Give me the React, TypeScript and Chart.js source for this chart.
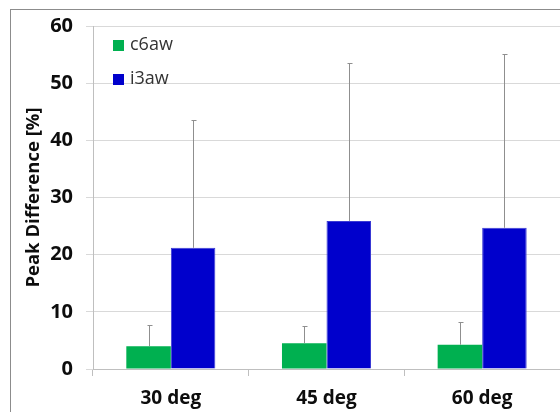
import React, { useEffect, useRef } from "react";
import { Chart, registerables } from "chart.js";

Chart.register(...registerables);

const categories = ["30 deg", "45 deg", "60 deg"];
const c6aw = [4.0, 4.5, 4.25];
const i3aw = [21.2, 25.9, 24.7];
// upper error extents above each bar
const c6awErr = [3.7, 3.0, 4.05];
const i3awErr = [22.3, 27.7, 30.4];
const yTicks = [0, 10, 20, 30, 40, 50, 60];

const GREEN = "#00b050";
const BLUE = "#0000cc";
const FONT = "'Open Sans', 'Liberation Sans', sans-serif";

const framePlugin = {
  id: "frame",
  beforeDraw(chart: any) {
    const ctx = chart.ctx;
    ctx.save();
    ctx.fillStyle = "#ffffff";
    ctx.fillRect(0, 0, chart.width, chart.height);
    ctx.strokeStyle = "#8c8c8c";
    ctx.lineWidth = 1;
    ctx.strokeRect(10.5, 9.5, 800, 800);
    ctx.restore();
  },
};

const errorBarPlugin = {
  id: "errorBars",
  afterDatasetsDraw(chart: any) {
    const ctx = chart.ctx;
    const y = chart.scales.y;
    const errs = [c6awErr, i3awErr];
    ctx.save();
    ctx.strokeStyle = "#8f8f8f";
    ctx.lineWidth = 1;
    chart.data.datasets.forEach((ds: any, di: number) => {
      const meta = chart.getDatasetMeta(di);
      meta.data.forEach((el: any, i: number) => {
        const v = ds.data[i];
        const x = Math.round(el.x) + 0.5;
        const y0 = y.getPixelForValue(v);
        const y1 = Math.round(y.getPixelForValue(v + errs[di][i])) + 0.5;
        ctx.beginPath();
        ctx.moveTo(x, y0);
        ctx.lineTo(x, y1);
        ctx.moveTo(x - 2, y1);
        ctx.lineTo(x + 3, y1);
        ctx.stroke();
      });
    });
    ctx.restore();
  },
};

const legendPlugin = {
  id: "innerLegend",
  afterDraw(chart: any) {
    const ctx = chart.ctx;
    const items = [
      { label: "c6aw", color: GREEN, y: 40 },
      { label: "i3aw", color: BLUE, y: 74 },
    ];
    ctx.save();
    ctx.font = `18px ${FONT}`;
    ctx.textBaseline = "middle";
    ctx.textAlign = "left";
    items.forEach((it) => {
      ctx.fillStyle = it.color;
      ctx.fillRect(113, it.y, 11, 11);
      ctx.fillStyle = "#333333";
      ctx.fillText(it.label, 130, it.y + 5);
    });
    ctx.restore();
  },
};

export default function App() {
  const ref = useRef<HTMLCanvasElement | null>(null);

  useEffect(() => {
    if (!ref.current) return;
    const chart = new Chart(ref.current, {
      type: "bar",
      data: {
        labels: categories,
        datasets: [
          {
            label: "c6aw",
            data: c6aw,
            backgroundColor: GREEN,
            borderWidth: 0,
            categoryPercentage: 0.572,
            barPercentage: 1,
          },
          {
            label: "i3aw",
            data: i3aw,
            backgroundColor: BLUE,
            borderColor: "#3a3ad4",
            borderWidth: 1,
            categoryPercentage: 0.572,
            barPercentage: 1,
          },
        ],
      },
      options: {
        animation: false,
        responsive: false,
        layout: { padding: { left: 0, top: 26, right: 0, bottom: 0 } },
        plugins: {
          legend: { display: false },
          tooltip: { enabled: false },
        },
        scales: {
          x: {
            grid: {
              offset: true,
              drawOnChartArea: false,
              tickLength: 7,
              color: "#bfbfbf",
            },
            border: { color: "#bfbfbf" },
            ticks: {
              color: "#0d0d0d",
              font: { family: FONT, size: 19, weight: "bold" },
              padding: 11,
              maxRotation: 0,
            },
            afterFit(scale: any) {
              scale.height = 43;
            },
          },
          y: {
            min: 0,
            max: 60,
            afterBuildTicks(scale: any) {
              scale.ticks = yTicks.map((v) => ({ value: v }));
            },
            grid: { color: "#d9d9d9", tickLength: 7 },
            border: { color: "#bfbfbf" },
            ticks: {
              color: "#0d0d0d",
              font: { family: FONT, size: 20, weight: "bold" },
              padding: 13,
            },
            title: {
              display: true,
              text: "Peak Difference [%]",
              color: "#0d0d0d",
              font: { family: FONT, size: 18.5, weight: "bold" },
              padding: { top: 23, bottom: 0 },
            },
            afterFit(scale: any) {
              scale.width = 93;
            },
          },
        },
      },
      plugins: [framePlugin, errorBarPlugin, legendPlugin],
    });
    return () => chart.destroy();
  }, []);

  return (
    <div style={{ position: "absolute", left: 0, top: 0, width: 560, height: 412 }}>
      <canvas ref={ref} width={560} height={412} />
    </div>
  );
}
